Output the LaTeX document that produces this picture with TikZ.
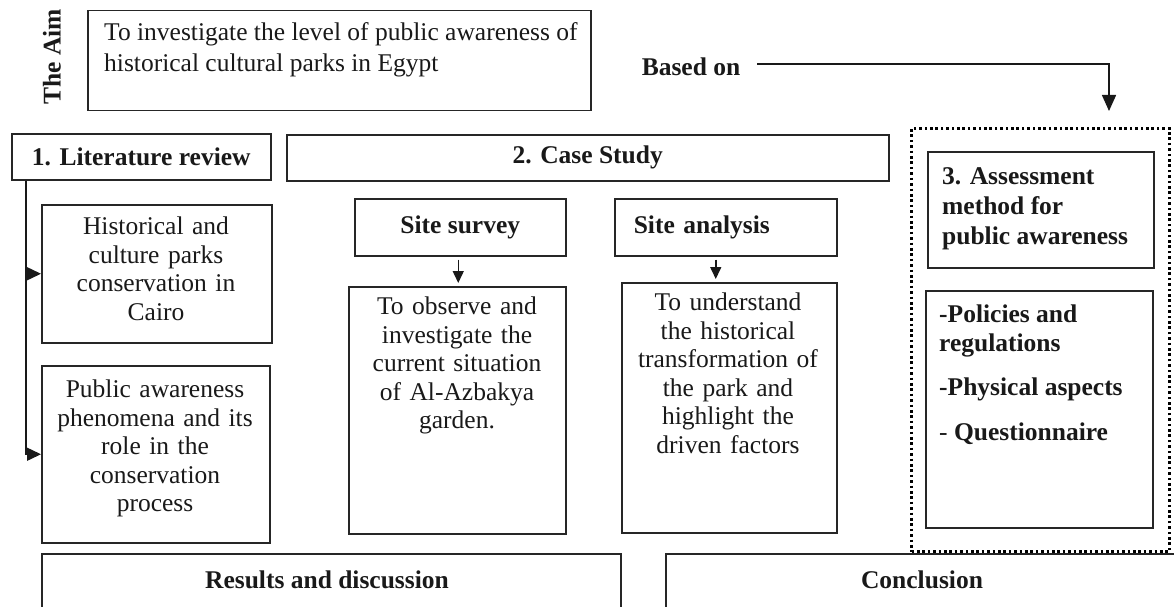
\documentclass[tikz,border=0pt]{standalone}
\usepackage{fontspec}
\setmainfont{Liberation Serif}
\usetikzlibrary{arrows.meta,calc}
\begin{document}
\begin{tikzpicture}[x=1pt,y=-1pt,
  box/.style={draw=black!85, line width=1.5pt, inner sep=0pt, anchor=north west, text=black!90,
    font=\fontsize{25.5}{28.5}\selectfont\bfseries},
  dotbox/.style={draw=black, line width=3pt, dash pattern=on 2.6pt off 2.8pt, inner sep=0pt, anchor=north west},
  txt/.style={inner sep=0pt, text=black!90, font=\fontsize{25.5}{28.5}\selectfont},
  btxt/.style={inner sep=0pt, text=black!90, font=\fontsize{25.5}{28.5}\selectfont\bfseries},
  conn/.style={draw=black!90, line width=1.5pt},
  arrBig/.style={conn, -{Triangle[length=16pt,width=14pt]}},
  arrSide/.style={conn, -{Triangle[length=14pt,width=13pt]}},
  arrDown/.style={conn, -{Triangle[length=12pt,width=11pt]}, shorten <=3pt, shorten >=3pt}
]
\fill[white] (0,0) rectangle (1174,607);
\useasboundingbox (0,0) rectangle (1174,607);

% The aim
\node[btxt, rotate=90] (theaim) at (52,57) {The Aim};
\node[box, minimum width=503pt, minimum height=100pt] (aim) at (87,10) {};
\node[txt, anchor=north west, align=left, font=\fontsize{25.5}{31}\selectfont] (aimtxt) at (104,22)
  {To investigate the level of public awareness of\\historical cultural parks in Egypt};

\node[btxt] (basedon) at (691,67) {Based on};

% Dotted group
\node[dotbox, minimum width=258pt, minimum height=423pt] (dotted) at (910,127) {};
\coordinate (aimArrowEnd) at (1109,111);
\draw[arrBig] ([xshift=17pt,yshift=3pt]basedon.east) -| (aimArrowEnd);

\node[box, minimum width=226pt, minimum height=116pt] (assess) at (927,151) {};
\node[btxt, anchor=north west, align=left, font=\fontsize{25.5}{30}\selectfont\bfseries] (assesstxt) at (942,167)
  {3. Assessment\\method for\\public awareness};
\node[box, minimum width=227pt, minimum height=237pt] (policies) at (925,290) {};
\node[btxt, anchor=north west, align=left] (policiestxt) at (939,305)
  {-Policies and\\regulations\\[16pt]-Physical aspects\\[16.5pt]{\mdseries-} Questionnaire};

% Literature review
\node[box, minimum width=259pt, minimum height=46pt] (lit) at (11,133) {1. Literature review};
\node[box, minimum width=230pt, minimum height=138pt] (hist) at (41,204) {};
\node[txt, anchor=north, align=center, text width=226pt] (histtxt) at (156,217)
  {Historical and\\culture parks\\conservation in\\Cairo};
\node[box, minimum width=228pt, minimum height=177pt] (public) at (41,365) {};
\node[txt, anchor=north, align=center, text width=226pt] (publictxt) at (155,380)
  {Public awareness\\phenomena and its\\role in the\\conservation\\process};
\coordinate (trunk) at ([xshift=15pt]lit.south west);
\draw[arrSide] (trunk) |- (public.west);
\draw[arrSide] (trunk |- hist.west) -- (hist.west);

% Case study
\node[box, minimum width=602pt, minimum height=46pt] (case) at (286,134) {2. Case Study};
\node[box, minimum width=211pt, minimum height=57pt] (survey) at (354,198) {Site survey};
\node[box, minimum height=57pt, inner xsep=19pt, text width=184pt, align=left] (analysis) at (614,198) {Site analysis};
\node[box, minimum width=217pt, minimum height=247pt] (obs) at (348,286) {};
\node[txt, anchor=north, align=center, text width=215pt] (obstxt) at (457,297)
  {To observe and\\investigate the\\current situation\\of Al-Azbakya\\garden.};
\node[box, minimum width=215pt, minimum height=250pt] (und) at (621,282) {};
\node[txt, anchor=north, align=center, text width=213pt] (undtxt) at (728,293)
  {To understand\\the historical\\transformation of\\the park and\\highlight the\\driven factors};
\coordinate (sS) at ([xshift=-2pt]survey.south);
\draw[arrDown] (sS) -- (sS |- obs.north);
\coordinate (aS) at ([xshift=-10pt]analysis.south);
\draw[arrDown] (aS) -- (aS |- und.north);

% Bottom
\node[box, minimum width=579pt, minimum height=100pt] (results) at (41,553) {};
\node[btxt] (resultstxt) at (327,580) {Results and discussion};
\node[box, minimum width=540pt, minimum height=100pt] (concl) at (665,553) {};
\node[btxt] (concltxt) at (922,580) {Conclusion};
\end{tikzpicture}
\end{document}
